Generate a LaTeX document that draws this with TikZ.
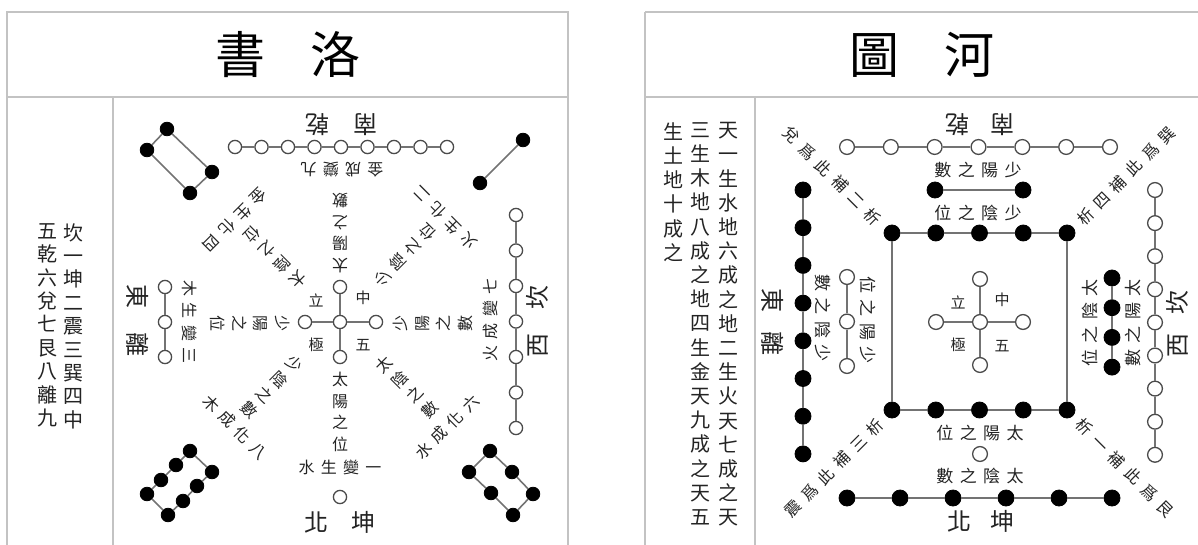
\documentclass[tikz,border=0pt]{standalone}
\usepackage{fontspec}
\newfontfamily\cjk{Noto Sans CJK TC}
\newlength\cgap
\setlength\cgap{3.1pt}
\def\spo#1{\ifx#1\relax\unskip\else#1\hspace{\cgap}\expandafter\spo\fi}
\definecolor{lc}{RGB}{115,115,115}
\definecolor{oc}{RGB}{75,75,75}
\definecolor{fc}{RGB}{195,195,195}
\definecolor{tc}{RGB}{35,35,35}
\begin{document}
\begin{tikzpicture}[x=0.5pt,y=-0.5pt,
  ln/.style={draw=lc, line width=0.8pt},
  frame/.style={draw=fc, line width=0.7pt},
  wd/.style={circle, draw=oc, fill=white, line width=0.65pt, minimum size=6.6pt, inner sep=0pt},
  bd/.style={circle, fill=black, draw=black, minimum size=6.8pt, inner sep=0pt},
  hwd/.style={wd, minimum size=7.4pt},
  hbd/.style={bd, minimum size=8pt},
  title/.style={font=\cjk\fontsize{25}{28}\selectfont, text=black, inner sep=0pt},
  col/.style={font=\cjk\fontsize{10}{11.7}\selectfont, text=tc, inner sep=0pt, align=center},
  hcol/.style={font=\cjk\fontsize{10}{12.1}\selectfont, text=tc, inner sep=0pt, align=center},
  lab/.style={font=\cjk\fontsize{12}{14}\selectfont, text=tc, inner sep=0pt},
  sm/.style={font=\cjk\fontsize{8}{10.8}\selectfont, text=tc, inner sep=0pt, align=center},
  hsm/.style={font=\cjk\fontsize{8.5}{11}\selectfont, text=tc, inner sep=0pt, align=center, execute at begin node={\setlength\cgap{3.2pt}}},
  hdg/.style={font=\cjk\fontsize{8}{11}\selectfont, text=tc, inner sep=0pt, execute at begin node={\setlength\cgap{3.5pt}}},
  tiny/.style={font=\cjk\fontsize{7.5}{9}\selectfont, text=tc, inner sep=0pt},
]
\useasboundingbox (0,0) rectangle (1198,545);
% ---------- frames ----------
\draw[frame] (7,12) rectangle (568,97);
\draw[frame] (7,97) -- (7,545) (568,97) -- (568,545) (113,97) -- (113,545);
\draw[frame] (645,12) -- (1210,12) (645,97) -- (1210,97) (645,12) -- (645,545) (755,97) -- (755,545);
% ---------- titles ----------
\node[title] (T1) at (288,55) {書\hspace{0.9em}洛};
\node[title] (T2) at (922,55) {圖\hspace{0.9em}河};
% ---------- Luoshu text column ----------
\node[col, anchor=north] (LK1) at (73,223) {坎\\一\\坤\\二\\震\\三\\巽\\四\\中};
\node[col, anchor=north] (LK2) at (47,223) {五\\乾\\六\\兌\\七\\艮\\八\\離\\九};
% ---------- Hetu text column ----------
\node[hcol, anchor=north] (HK1) at (728,122) {天\\一\\生\\水\\地\\六\\成\\之\\地\\二\\生\\火\\天\\七\\成\\之\\天};
\node[hcol, anchor=north] (HK2) at (700,122) {三\\生\\木\\地\\八\\成\\之\\地\\四\\生\\金\\天\\九\\成\\之\\天\\五};
\node[hcol, anchor=north] (HK3) at (673,122) {生\\土\\地\\十\\成\\之};

% ================= LUOSHU =================
% centre cross
\node[wd] (LC) at (340,322) {};
\node[wd] (LCt) at (340,287) {};
\node[wd] (LCb) at (340,357) {};
\node[wd] (LCl) at (305,322) {};
\node[wd] (LCr) at (376,322) {};
\draw[ln] (LC) -- (LCt) (LC) -- (LCb) (LC) -- (LCl) (LC) -- (LCr);
\node[tiny] (Lq1) at (316,300) {立};
\node[tiny] (Lq2) at (363,298) {中};
\node[tiny] (Lq3) at (316,345) {極};
\node[tiny] (Lq4) at (363,345) {五};
% top: nine
\foreach \i in {0,...,8} \node[wd] (LS\i) at ({235+26.5*\i},147) {};
\foreach \i [count=\j from 1] in {0,...,7} \draw[ln] (LS\i) -- (LS\j);
% left: three
\foreach \i in {0,1,2} \node[wd] (LE\i) at (165,{287+35*\i}) {};
\draw[ln] (LE0) -- (LE1) -- (LE2);
% right: seven
\foreach \i in {0,...,6} \node[wd] (LW\i) at (516,{215+35.5*\i}) {};
\foreach \i [count=\j from 1] in {0,...,5} \draw[ln] (LW\i) -- (LW\j);
% bottom: one
\node[wd] (LN) at (340,497) {};
% upper left: four
\node[bd] (LF1) at (167,129) {};
\node[bd] (LF2) at (147,150) {};
\node[bd] (LF3) at (190,193) {};
\node[bd] (LF4) at (212,172) {};
\draw[ln] (LF1) -- (LF2) -- (LF3) -- (LF4) -- (LF1);
% upper right: two
\node[bd] (LT1) at (523,140) {};
\node[bd] (LT2) at (480,183) {};
\draw[ln] (LT1) -- (LT2);
% lower left: eight
\node[bd] (LA1) at (190,451) {};
\node[bd] (LA2) at (176,465) {};
\node[bd] (LA3) at (161,480) {};
\node[bd] (LA4) at (147,494) {};
\node[bd] (LB1) at (212,472) {};
\node[bd] (LB2) at (197,486) {};
\node[bd] (LB3) at (183,501) {};
\node[bd] (LB4) at (168,515) {};
\draw[ln] (LA1) -- (LA2) -- (LA3) -- (LA4) -- (LB4) -- (LB3) -- (LB2) -- (LB1) -- (LA1);
% lower right: six
\node[bd] (LX1) at (490,451) {};
\node[bd] (LX2) at (512,472) {};
\node[bd] (LX3) at (533,494) {};
\node[bd] (LY1) at (469,472) {};
\node[bd] (LY2) at (491,493) {};
\node[bd] (LY3) at (513,515) {};
\draw[ln] (LX1) -- (LX2) -- (LX3) -- (LY3) -- (LY2) -- (LY1) -- (LX1);
% direction labels
\node[lab, rotate=180] (LDs) at (341,125) {南\hspace{1em}乾};
\node[lab] (LDn) at (340,522) {北\hspace{0.95em}坤};
\node[lab, rotate=-90] (LDe) at (138,320) {東\hspace{1em}離};
\node[lab, rotate=90] (LDw) at (537,321) {西\hspace{1em}坎};
% texts along the radii
\node[sm] (La1) at (340,412) {太\\陽\\之\\位};
\node[sm, rotate=180] (La2) at (340,233) {太\\陽\\之\\數};
\node[sm, rotate=-90] (La3) at (250,323) {少\\陽\\之\\位};
\node[sm, rotate=90] (La4) at (433,323) {少\\陽\\之\\數};
\node[sm, rotate=-135] (La5) at (275,257) {太\\陰\\之\\位};
\node[sm, rotate=135] (La6) at (405,255) {少\\陰\\之\\位};
\node[sm, rotate=-45] (La7) at (272,387) {少\\陰\\之\\數};
\node[sm, rotate=45] (La8) at (407,387) {太\\陰\\之\\數};
% texts across the radii
\node[sm] (Lp1) at (340,467) {\spo 水生變一\relax};
\node[sm, rotate=180] (Lp2) at (342,170) {\spo 金成變九\relax};
\node[sm, rotate=-90] (Lp3) at (190,322) {\spo 木生變三\relax};
\node[sm, rotate=90] (Lp4) at (490,320) {\spo 火成變七\relax};
\node[sm, rotate=-135] (Lp5) at (235,220) {\spo 金生化四\relax};
\node[sm, rotate=135] (Lp6) at (445,218) {\spo 火生化二\relax};
\node[sm, rotate=-45] (Lp7) at (235,427) {\spo 木成化八\relax};
\node[sm, rotate=45] (Lp8) at (447,427) {\spo 水成化六\relax};

% ================= HETU =================
\node[hwd] (HC) at (980,322) {};
\node[hwd] (HCt) at (980,279) {};
\node[hwd] (HCb) at (980,365) {};
\node[hwd] (HCl) at (936,322) {};
\node[hwd] (HCr) at (1023,322) {};
\draw[ln] (HC) -- (HCt) (HC) -- (HCb) (HC) -- (HCl) (HC) -- (HCr);
\node[tiny] (Hq1) at (958,302) {立};
\node[tiny] (Hq2) at (1002,300) {中};
\node[tiny] (Hq3) at (958,345) {極};
\node[tiny] (Hq4) at (1002,346) {五};
% inner square: ten
\foreach \i in {0,...,4} {
  \node[hbd] (HT\i) at ({892+43.75*\i},233) {};
  \node[hbd] (HB\i) at ({892+43.75*\i},410) {};
}
\draw[ln] (HT0) -- (HT1) -- (HT2) -- (HT3) -- (HT4) -- (HB4) -- (HB3) -- (HB2) -- (HB1) -- (HB0) -- (HT0);
% top outer: seven
\foreach \i in {0,...,6} \node[hwd] (HS\i) at ({847+43.83*\i},147) {};
\foreach \i [count=\j from 1] in {0,...,5} \draw[ln] (HS\i) -- (HS\j);
% top inner: two
\node[hbd] (HSa) at (935,190) {};
\node[hbd] (HSb) at (1023,190) {};
\draw[ln] (HSa) -- (HSb);
% left outer: eight
\foreach \i in {0,...,7} \node[hbd] (HE\i) at (803,{190+37.7*\i}) {};
\foreach \i [count=\j from 1] in {0,...,6} \draw[ln] (HE\i) -- (HE\j);
% left inner: three
\foreach \i in {0,1,2} \node[hwd] (HL\i) at (847,{277+44.5*\i}) {};
\draw[ln] (HL0) -- (HL1) -- (HL2);
% right outer: nine
\foreach \i in {0,...,8} \node[hwd] (HW\i) at (1155,{190+33.1*\i}) {};
\foreach \i [count=\j from 1] in {0,...,7} \draw[ln] (HW\i) -- (HW\j);
% right inner: four
\foreach \i in {0,...,3} \node[hbd] (HR\i) at (1112,{278+29.7*\i}) {};
\draw[ln] (HR0) -- (HR1) -- (HR2) -- (HR3);
% bottom outer: six
\foreach \i in {0,...,5} \node[hbd] (HN\i) at ({847+53*\i},498) {};
\foreach \i [count=\j from 1] in {0,...,4} \draw[ln] (HN\i) -- (HN\j);
% bottom inner: one
\node[hwd] (HNa) at (980,454) {};
% direction labels
\node[lab, rotate=180] (HDs) at (980,125) {南\hspace{0.9em}乾};
\node[lab] (HDn) at (981,521) {北\hspace{0.8em}坤};
\node[lab, rotate=-90] (HDe) at (773,322) {東\hspace{0.8em}離};
\node[lab, rotate=90] (HDw) at (1177,324) {西\hspace{0.8em}坎};
% inner texts
\node[hsm] (Hx1) at (978,170) {\spo 數之陽少\relax};
\node[hsm] (Hx2) at (978,213) {\spo 位之陰少\relax};
\node[hsm] (Hx3) at (980,433) {\spo 位之陽太\relax};
\node[hsm] (Hx4) at (980,476) {\spo 數之陰太\relax};
\node[hsm, rotate=-90] (Hx5) at (823,318) {\spo 數之陰少\relax};
\node[hsm, rotate=-90] (Hx6) at (868,320) {\spo 位之陽少\relax};
\node[hsm, rotate=90] (Hx7) at (1090,323) {\spo 位之陰太\relax};
\node[hsm, rotate=90] (Hx8) at (1133,323) {\spo 數之陽太\relax};
% diagonal texts
\node[hdg, rotate=-45] (Hd1) at (832,176) {\spo 兌爲此補二析\relax};
\node[hdg, rotate=45] (Hd2) at (1126,176) {\spo 析四補此爲巽\relax};
\node[hdg, rotate=45] (Hd3) at (834,468) {\spo 震爲此補三析\relax};
\node[hdg, rotate=-45] (Hd4) at (1125,468) {\spo 析一補此爲艮\relax};
\end{tikzpicture}
\end{document}
